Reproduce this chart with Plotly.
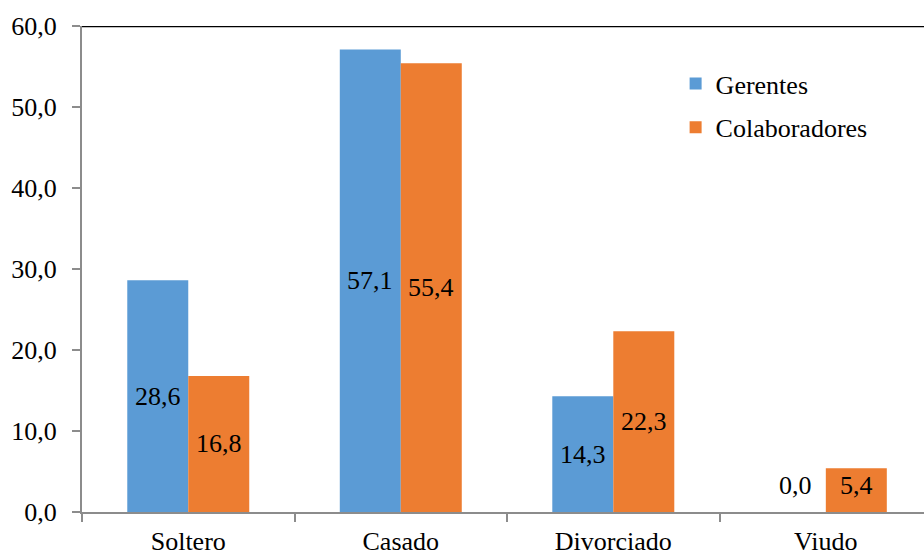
import plotly.graph_objects as go

categories = ["Soltero", "Casado", "Divorciado", "Viudo"]
gerentes = [28.6, 57.1, 14.3, 0.0]
colaboradores = [16.8, 55.4, 22.3, 5.4]
y_ticks = [0, 10, 20, 30, 40, 50, 60]

BLUE = "#5B9BD5"
ORANGE = "#ED7D31"
FONT = "Liberation Serif, Times New Roman, serif"
AXIS_GREY = "#8C8C8C"

def fmt(v):
    return f"{v:.1f}".replace(".", ",")

fig = go.Figure()
fig.add_trace(go.Bar(name="Gerentes", x=categories, y=gerentes,
                     marker=dict(color=BLUE, line=dict(width=0)),
                     legendgroup="g"))
fig.add_trace(go.Bar(name="Colaboradores", x=categories, y=colaboradores,
                     marker=dict(color=ORANGE, line=dict(width=0)),
                     legendgroup="c"))

# value labels centred in each bar (small bars get a minimum height)
bar_px = 30.5
for i, cat in enumerate(categories):
    for vals, sh in ((gerentes, -bar_px), (colaboradores, bar_px)):
        v = vals[i]
        fig.add_annotation(x=cat, y=max(v / 2, 3.3), text=fmt(v), showarrow=False,
                           xshift=sh, font=dict(family=FONT, size=26, color="black"))

# top border of the plot area
fig.add_shape(type="line", xref="paper", yref="y", x0=0, x1=1, y0=60, y1=60,
              line=dict(color="black", width=2.5))

fig.update_layout(
    width=924, height=557,
    margin=dict(l=82, r=0, t=26, b=45),
    paper_bgcolor="white", plot_bgcolor="white",
    barmode="group", bargap=0.426, bargroupgap=0,
    font=dict(family=FONT, size=26, color="black"),
    showlegend=True,
    legend=dict(x=0.705, y=0.93, xanchor="left", yanchor="top",
                bgcolor="rgba(0,0,0,0)", tracegroupgap=7, itemwidth=30,
                font=dict(family=FONT, size=26, color="black")),
    xaxis=dict(range=[-0.5, 3.462], showline=True, linecolor=AXIS_GREY, linewidth=2,
               ticks="outside", tickson="boundaries", ticklen=8, tickwidth=2,
               tickcolor=AXIS_GREY, showgrid=False, zeroline=False,
               ticklabelstandoff=5,
               tickfont=dict(family=FONT, size=26, color="black")),
    yaxis=dict(range=[0, 60], tickvals=y_ticks, ticktext=[fmt(t) for t in y_ticks],
               showline=True, linecolor=AXIS_GREY, linewidth=2,
               ticks="outside", ticklen=8, tickwidth=2, tickcolor=AXIS_GREY,
               showgrid=False, zeroline=False, ticklabelstandoff=10,
               tickfont=dict(family=FONT, size=26, color="black")),
)

fig.write_html("out.html")
